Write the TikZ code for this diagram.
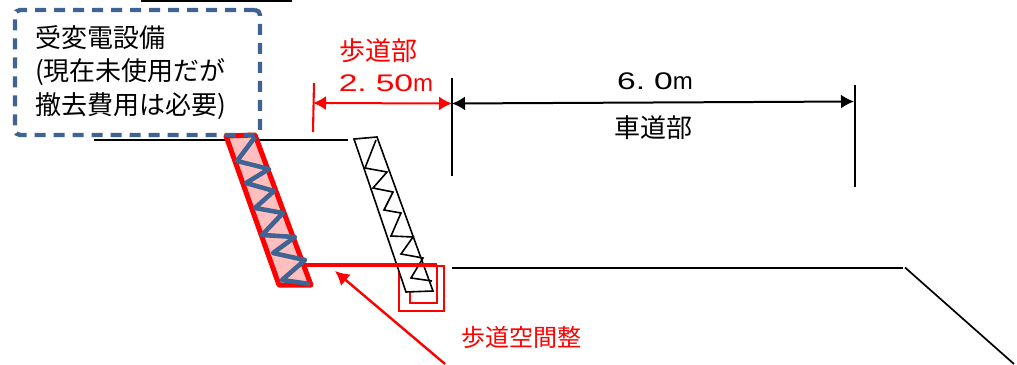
\documentclass[tikz,border=0pt]{standalone}
\usepackage{fontspec}
\setmainfont{Liberation Sans}
\newfontfamily\cjkfont{Noto Sans CJK JP}
\newfontfamily\widefont[FakeStretch=1.4]{Liberation Sans}
\usetikzlibrary{arrows.meta}
\definecolor{boxblue}{HTML}{3F6392}
\definecolor{bandpink}{HTML}{FFBFBF}
\newcommand{\cjksize}[1]{\fontsize{#1}{#1}\selectfont\cjkfont}
\newcommand{\dimtext}[2]{{\widefont #1.\hspace{9pt}#2}m}
\tikzset{
	plainline/.style={black, line width=1.7pt},
	tickline/.style={black, line width=2.1pt},
	redtick/.style={red, line width=2.1pt},
	blackdim/.style={black, line width=2pt, {Latex[length=13pt,width=14pt]}-{Latex[length=13pt,width=14pt]}},
	reddim/.style={red, line width=2pt, {Latex[length=13pt,width=14pt]}-{Latex[length=13pt,width=14pt]}},
	redpointer/.style={red, line width=2.4pt, -{Latex[length=14pt,width=15pt]}},
	band/.style={red, fill=bandpink, line width=5pt, line join=round},
	zigblue/.style={boxblue, line width=4.6pt, line join=round},
	zigblack/.style={black, line width=1.6pt},
	redsquare/.style={red, line width=1.7pt},
	label/.style={inner sep=0pt, anchor=center},
}

\begin{document}
\begin{tikzpicture}[x=1pt, y=-1pt]
	\useasboundingbox (0,0) rectangle (1017,364);

	% key points of the dimensions
	\coordinate (walkL) at (313,103);
	\coordinate (walkR) at (452,103.5);
	\coordinate (roadR) at (854,101.5);
	\coordinate (pipeA) at (304,265);
	\coordinate (pipeB) at (437,265);

	% lines of the old section
	\draw[black, line width=2.4pt] (141,0.5) -- (292,0.5);
	\draw[plainline] (94,140) -- (348,140);
	\draw[black, line width=2.4pt] (452,268) -- (903,268);
	\draw[plainline] (905,267.5) -- (1014,364);

	% pink band with zigzag
	\draw[band] (226,136) -- (255,135) -- (311,285) -- (279,285) -- cycle;
	\draw[zigblue] (255,137) -- (237,161) -- (269,169) -- (246,183) -- (274,191) -- (255,208)
		-- (283,213) -- (262,235) -- (295,237) -- (273,253) -- (305,260) -- (282,280) -- (310,284);

	% red squares under the white band
	\draw[redsquare] (399,266) rectangle (444,311);
	\draw[redsquare] (410,292) -- (410,303) -- (437,303) -- (437,265);

	% white band with zigzag
	\draw[zigblack, fill=white] (354,139) -- (377,137) -- (433,291) -- (406,292) -- cycle;
	\draw[zigblack] (376,140) -- (365,168) -- (387,172) -- (373,188) -- (393,192) -- (384,210)
		-- (401,213) -- (391,236) -- (413,237) -- (401,254) -- (423,258) -- (411,278) -- (432,281);
	\draw[red, line width=4pt] (pipeA) -- (pipeB);

	% dimensions
	\draw[redtick] (314,83) -- (313,132);
	\draw[tickline] (452,78) -- (452,176);
	\draw[plainline] (855,85) -- (855,187);
	\draw[blackdim] (walkR) -- (roadR);
	\draw[reddim] (walkL) -- (walkR);

	% substation box
	\node[label, draw=boxblue, line width=4.4pt, dash pattern=on 11pt off 8pt, rounded corners=5pt,
		minimum width=245pt, minimum height=125pt] (substation) at (137.5,72.5) {};
	\node[label, anchor=west] (substationA) at (35,38) {\cjksize{26}受変電設備};
	\node[label, anchor=west] (substationB) at (35,72) {\cjksize{26}(現在未使用だが};
	\node[label, anchor=west] (substationC) at (35,106) {\cjksize{26}撤去費用は必要)};

	% labels
	\node[label, red] (walkname) at (378,51) {\cjksize{26}歩道部};
	\node[label, red] (walkwidth) at (386,83) {\fontsize{24}{24}\selectfont\dimtext{2}{50}};
	\node[label] (roadwidth) at (655,81) {\fontsize{24}{24}\selectfont\dimtext{6}{0}};
	\node[label] (roadname) at (653,128) {\cjksize{26}車道部};

	% pointer to the new sidewalk
	\node[label, red] (walkwork) at (521,337) {\cjksize{24}歩道空間整};
	\coordinate (pointerend) at (445,364);
	\draw[redpointer] (pointerend) -- (335,271);
\end{tikzpicture}
\end{document}
